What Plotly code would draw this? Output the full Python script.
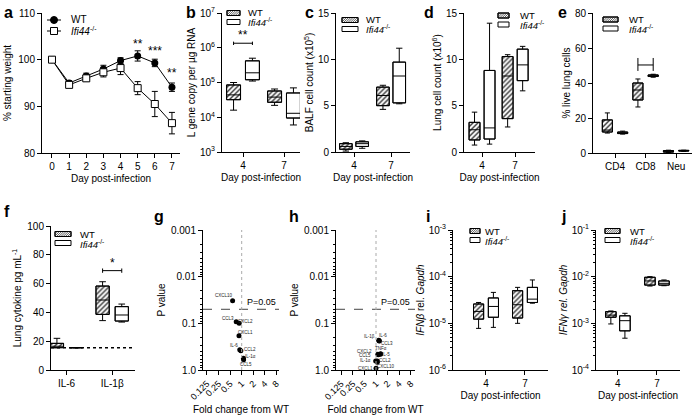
import math
import plotly.graph_objects as go

W, H = 696, 419
FONT = "Arial, Liberation Sans, sans-serif"
KO = "<i>Ifi44</i><sup>-/-</sup>"

# ---------------- data ----------------
# a: body weight
a_days = [0, 1, 2, 3, 4, 5, 6, 7]
a_wt = [100, 95.0, 96.5, 98.0, 99.8, 100.8, 99.3, 94.1]
a_wt_err = [0, 0.5, 0.6, 0.8, 0.6, 1.1, 0.8, 0.9]
a_ko = [100, 94.6, 96.0, 97.3, 98.2, 93.9, 90.5, 86.4]
a_ko_err = [0, 0.6, 0.6, 1.0, 1.4, 1.4, 2.7, 2.3]
a_star_days = [5, 6, 7]
a_star_y = [103.4, 101.8, 97.2]
a_star_txt = ["**", "***", "**"]

days_cat = ["4", "7"]
# box stats: [low whisker, q1, median, q3, high whisker] per category
b_wt = [[1.6e4, 3.2e4, 4.4e4, 8.5e4, 1.0e5], [2.2e4, 2.7e4, 3.8e4, 5.7e4, 6.5e4]]
b_ko = [[1.1e5, 1.2e5, 1.9e5, 4.2e5, 5.0e5], [6e3, 9.5e3, 1.3e4, 5e4, 7e4]]
c_wt = [[0.1, 0.3, 0.6, 0.9, 1.0], [4.6, 5.0, 6.1, 7.0, 7.2]]
c_ko = [[0.4, 0.6, 0.9, 1.1, 1.2], [5.2, 5.3, 8.2, 9.7, 11.2]]
d_wt = [[0.75, 1.3, 2.4, 3.2, 4.3], [2.7, 3.6, 8.2, 10.3, 10.5]]
d_ko = [[0.85, 1.4, 2.6, 8.8, 13.9], [6.6, 7.7, 9.4, 11.1, 11.4]]
e_cats = ["CD4", "CD8", "Neu"]
e_wt = [[11.4, 12.0, 13.1, 18.9, 22.9], [26.3, 30.3, 36.0, 40.0, 42.3], [0.3, 0.5, 0.9, 1.4, 1.6]]
e_ko = [[10.8, 11.1, 11.6, 12.0, 12.5], [43.3, 43.7, 44.2, 44.6, 45.0], [0.9, 1.1, 1.3, 1.5, 1.6]]
f_cats = ["IL-6", "IL-1β"]
f_wt = [[15.5, 15.5, 16.5, 18.5, 22.0], [34.3, 38.6, 48.6, 58.3, 61.3]]
f_ko = [[15.5, 15.5, 15.5, 15.5, 15.5], [33.3, 34.0, 38.2, 44.0, 45.8]]
f_lod = 15.5
i_wt = [[7.8e-6, 1.23e-5, 1.8e-5, 2.6e-5, 2.8e-5], [1.0e-5, 1.3e-5, 2.5e-5, 5.0e-5, 5.9e-5]]
i_ko = [[8.2e-6, 1.35e-5, 2.3e-5, 3.5e-5, 4.6e-5], [2.7e-5, 2.8e-5, 3.3e-5, 5.9e-5, 8.5e-5]]
j_wt = [[9.7e-4, 1.35e-3, 1.5e-3, 1.78e-3, 1.84e-3], [6.3e-3, 6.6e-3, 8.1e-3, 9.7e-3, 1.0e-2]]
j_ko = [[4.8e-4, 6.9e-4, 1.14e-3, 1.45e-3, 1.64e-3], [6.4e-3, 6.6e-3, 7.2e-3, 8.1e-3, 8.5e-3]]

# g / h volcano-style
g_names = ["CXCL10", "CCL3", "CXCL2", "CXCL1", "IL-6", "CCL2", "IL-1α", "CCL5"]
g_fold = [0.58, 0.72, 0.86, 0.85, 0.89, 0.95, 1.11, 1.12]
g_p = [0.033, 0.092, 0.10, 0.184, 0.37, 0.385, 0.56, 0.60]
h_names = ["IL-1β", "IL-6", "CCL3", "TNFα", "CXCL2", "CCL5", "IL-5", "IL-1α", "CCL2", "CXCL10", "CXCL1"]
h_fold = [1.18, 1.2, 1.22, 1.32, 1.12, 1.14, 1.3, 0.98, 1.08, 1.08, 1.0]
h_p = [0.23, 0.235, 0.24, 0.45, 0.46, 0.47, 0.46, 0.64, 0.64, 0.68, 0.92]
p_thresh = 0.05
fold_ref = 1
fold_ticks = [0.125, 0.25, 0.5, 1, 2, 4, 8]
fold_ticktext = ["0.125", "0.25", "0.5", "1", "2", "4", "8"]
p_ticks = [0.001, 0.01, 0.1, 1]
p_ticktext = ["0.001", "0.01", "0.1", "1.0"]

# label offsets (px) of the small gene labels from their points
g_lab_off = [(-9, -5), (-8, -3), (6, -2), (7, -3), (-6, -4), (9, -1), (7, -2), (2, 5)]
h_lab_off = [(-9, -4), (4, -5), (8, 2), (0, -5), (-13, -3), (-13, 1), (6, 0), (-10, 0), (8, 0), (9, 4), (-11, 0)]

# ---------------- layout helpers ----------------
def dx(a, b):
    return [a / W, b / W]

def dy(top, bottom):
    return [1 - bottom / H, 1 - top / H]

def minor_log(lo, hi):
    return [k * 10 ** e for e in range(lo, hi) for k in range(2, 10)]

def pow_text(lo, hi):
    return [10 ** e for e in range(lo, hi + 1)], ["10<sup>%d</sup>" % e for e in range(lo, hi + 1)]

base_ax = dict(showline=True, linecolor="black", linewidth=1, ticks="outside", ticklen=4,
               tickwidth=1, tickcolor="black", showgrid=False, zeroline=False, automargin=False,
               tickfont=dict(size=10, color="black", family=FONT),
               title_font=dict(size=10, color="black", family=FONT))

fig = go.Figure()
HATCH = dict(shape="/", fgcolor="#333", bgcolor="white", size=3.5, solidity=0.4)

def add_boxes(xa, ya, cats, wt, ko, off, w):
    for stats, sign in ((wt, -1), (ko, 1)):
        pos = [i + sign * off for i in range(len(cats))]
        lo = [s[0] for s in stats]
        q1 = [s[1] for s in stats]
        me = [s[2] for s in stats]
        q3 = [s[3] for s in stats]
        hi = [s[4] for s in stats]
        pat = HATCH if sign < 0 else dict(shape="")
        fig.add_trace(go.Bar(x=pos, base=q1, y=[b - a for a, b in zip(q1, q3)], width=w,
                             marker=dict(color="white", line=dict(color="black", width=1), pattern=pat),
                             xaxis=xa, yaxis=ya, showlegend=False, hoverinfo="skip"))
        fig.add_trace(go.Box(x=pos, q1=q1, median=me, q3=q3, lowerfence=lo, upperfence=hi,
                             width=w, whiskerwidth=0.5, fillcolor="rgba(0,0,0,0)",
                             line=dict(color="black", width=1), boxpoints=False,
                             xaxis=xa, yaxis=ya, showlegend=False))

# ---- a ----
fig.add_trace(go.Scatter(x=a_days, y=a_wt, mode="lines+markers", name="WT",
                         line=dict(color="black", width=1),
                         marker=dict(symbol="circle", size=7, color="black"),
                         error_y=dict(type="data", array=a_wt_err, color="black", thickness=1, width=3),
                         xaxis="x", yaxis="y", showlegend=False))
fig.add_trace(go.Scatter(x=a_days, y=a_ko, mode="lines+markers", name="Ifi44-/-",
                         line=dict(color="black", width=1),
                         marker=dict(symbol="square", size=7, color="white", line=dict(color="black", width=1)),
                         error_y=dict(type="data", array=a_ko_err, color="black", thickness=1, width=3),
                         xaxis="x", yaxis="y", showlegend=False))

add_boxes("x2", "y2", days_cat, b_wt, b_ko, 0.23, 0.34)
add_boxes("x3", "y3", days_cat, c_wt, c_ko, 0.22, 0.34)
add_boxes("x4", "y4", days_cat, d_wt, d_ko, 0.227, 0.33)
add_boxes("x5", "y5", e_cats, e_wt, e_ko, 0.25, 0.33)
add_boxes("x6", "y6", f_cats, f_wt, f_ko, 0.21, 0.29)
add_boxes("x9", "y9", days_cat, i_wt, i_ko, 0.19, 0.26)
add_boxes("x10", "y10", days_cat, j_wt, j_ko, 0.18, 0.27)

for xa, ya, fold, p in (("x7", "y7", g_fold, g_p), ("x8", "y8", h_fold, h_p)):
    fig.add_trace(go.Scatter(x=fold, y=p, mode="markers", marker=dict(color="black", size=5),
                             xaxis=xa, yaxis=ya, showlegend=False))

# ---------------- axes ----------------
L = {}
def setax(n, xdom, ydom, xr, yr, xkw, ykw):
    xs = "xaxis" if n == 1 else "xaxis%d" % n
    ys = "yaxis" if n == 1 else "yaxis%d" % n
    xname = "y" if n == 1 else "y%d" % n
    yname = "x" if n == 1 else "x%d" % n
    L[xs] = dict(base_ax, domain=xdom, range=xr, anchor=xname, **xkw)
    L[ys] = dict(base_ax, domain=ydom, range=yr, anchor=yname, **ykw)

day_title = dict(text="Day post-infection", standoff=3)
row1 = dy(13, 153)
row2 = dy(230, 370)

setax(1, dx(42, 180), row1, [-0.583, 7.47], [80, 110],
      dict(tickvals=a_days, title=day_title),
      dict(tickvals=[80, 90, 100, 110], title=dict(text="% starting weight", standoff=4)))
bt, btt = pow_text(3, 7)
setax(2, dx(222, 300), dy(13, 152), [-0.512, 1.39], [3, 7],
      dict(tickvals=[0, 1], ticktext=days_cat, title=day_title),
      dict(type="log", tickvals=bt, ticktext=btt, title=dict(text="L gene copy per µg RNA", standoff=2)))
setax(3, dx(336, 410), dy(13, 152), [-0.486, 1.51], [0, 15],
      dict(tickvals=[0, 1], ticktext=days_cat, title=day_title),
      dict(tickvals=[0, 5, 10, 15], title=dict(text="BALF cell count (x10<sup>5</sup>)", standoff=2)))
setax(4, dx(464, 535), dy(13, 152), [-0.545, 1.6], [0, 15],
      dict(tickvals=[0, 1], ticktext=days_cat, title=day_title),
      dict(tickvals=[0, 5, 10, 15], title=dict(text="Lung cell count (x10<sup>6</sup>)", standoff=2)))
setax(5, dx(593, 692), row1, [-0.72, 2.52], [0, 80],
      dict(tickvals=[0, 1, 2], ticktext=e_cats),
      dict(tickvals=[0, 20, 40, 60, 80], title=dict(text="% live lung cells", standoff=2)))
setax(6, dx(51, 135), dy(226, 370), [-0.34, 1.5], [0, 100],
      dict(tickvals=[0, 1], ticktext=f_cats),
      dict(tickvals=[0, 20, 40, 60, 80, 100], title=dict(text="Lung cytokine pg mL<sup>-1</sup>", standoff=3)))
fold_ax = dict(type="log", tickvals=fold_ticks, ticktext=fold_ticktext, tickangle=-45,
               tickfont=dict(size=9, color="black", family=FONT),
               title=dict(text="Fold change from WT", standoff=5))
p_ax = dict(type="log", tickvals=p_ticks, ticktext=p_ticktext,
            minor=dict(tickvals=minor_log(-3, 0), ticks="outside", ticklen=2, tickcolor="black", showgrid=False),
            title=dict(text="P value", standoff=3))
setax(7, dx(203, 279), row2, [-1.007, 0.971], [0, -3], fold_ax, p_ax)
setax(8, dx(336, 415), row2, [-1.039, 1.013], [0, -3], fold_ax, p_ax)
it, itt = pow_text(-6, -3)
setax(9, dx(453, 548), row2, [-0.846, 1.59], [-6, -3],
      dict(tickvals=[0, 1], ticktext=days_cat, title=day_title),
      dict(type="log", tickvals=it, ticktext=itt,
           minor=dict(tickvals=minor_log(-6, -3), ticks="outside", ticklen=2, tickcolor="black", showgrid=False),
           title=dict(text="<i>IFNβ</i> rel. <i>Gapdh</i>", standoff=2)))
jt, jtt = pow_text(-4, -1)
setax(10, dx(596, 680), row2, [-0.56, 1.59], [-4, -1],
      dict(tickvals=[0, 1], ticktext=days_cat, title=day_title),
      dict(type="log", tickvals=jt, ticktext=jtt,
           minor=dict(tickvals=minor_log(-4, -1), ticks="outside", ticklen=2, tickcolor="black", showgrid=False),
           title=dict(text="<i>IFNγ rel. Gapdh</i>", standoff=2)))

# ---------------- annotations & shapes ----------------
ann = []
shapes = []

def ptxt(text, x, y, size=10, **kw):
    ann.append(dict(text=text, xref="paper", yref="paper", x=x / W, y=1 - y / H, showarrow=False,
                    xanchor=kw.pop("xanchor", "left"), yanchor=kw.pop("yanchor", "middle"),
                    font=dict(size=size, color="black", family=FONT), **kw))

def prect(x0, y0, x1, y1, fill="white", lw=1):
    shapes.append(dict(type="rect", xref="paper", yref="paper", x0=x0 / W, x1=x1 / W,
                       y0=1 - y0 / H, y1=1 - y1 / H, fillcolor=fill, line=dict(color="black", width=lw)))

def phatch(x0, y0, w, h, step=2.2):
    segs = []
    t = -h
    while t < w:
        sx, sy, ex, ey = x0 + t, y0 + h, x0 + t + h, y0
        if sx < x0:
            sy -= (x0 - sx)
            sx = x0
        if ex > x0 + w:
            ey += ex - (x0 + w)
            ex = x0 + w
        if ex > sx:
            segs.append("M%.5f,%.5f L%.5f,%.5f" % (sx / W, 1 - sy / H, ex / W, 1 - ey / H))
        t += step
    shapes.append(dict(type="path", xref="paper", yref="paper", path=" ".join(segs),
                       line=dict(color="#333", width=0.8)))

def box_legend(sx, sw, y1, y2, tx, sh=5, fs=9.5):
    prect(sx, y1 - sh / 2, sx + sw, y1 + sh / 2)
    phatch(sx, y1 - sh / 2, sw, sh)
    prect(sx, y1 - sh / 2, sx + sw, y1 + sh / 2, fill="rgba(0,0,0,0)")
    prect(sx, y2 - sh / 2, sx + sw, y2 + sh / 2)
    ptxt("WT", tx, y1, size=fs)
    ptxt(KO, tx, y2 + 0.5, size=fs)

# panel a legend (line + marker)
for yy in (20, 31):
    shapes.append(dict(type="line", xref="paper", yref="paper", x0=47 / W, x1=61 / W, y0=1 - yy / H, y1=1 - yy / H,
                       line=dict(color="black", width=1)))
shapes.append(dict(type="circle", xref="paper", yref="paper", x0=50.5 / W, x1=57.5 / W, y0=1 - 23.5 / H,
                   y1=1 - 16.5 / H, fillcolor="black", line=dict(color="black", width=1)))
prect(50.5, 27.5, 57.5, 34.5)
ptxt("WT", 69, 20)
ptxt(KO, 69, 31)

box_legend(227, 13, 13, 22, 246)
box_legend(342, 16, 20, 29, 364)
box_legend(498, 11, 15.5, 24.5, 518)
box_legend(603, 15, 19.5, 28.5, 627)
box_legend(55, 16, 234, 243, 78)
box_legend(470, 10, 231, 240, 483)
box_legend(605, 15, 231, 240, 628)

for lt, x, y in (("a", 2, 2), ("b", 184, 2), ("c", 303, 2), ("d", 422, 2), ("e", 556, 2),
                 ("f", 2, 201), ("g", 152, 206), ("h", 287, 206), ("i", 424, 206), ("j", 559, 206)):
    ptxt("<b>%s</b>" % lt, x, y, size=16, yanchor="top")

for d, y, t in zip(a_star_days, a_star_y, a_star_txt):
    ann.append(dict(text=t, x=d, y=y, xref="x", yref="y", showarrow=False,
                    font=dict(size=12, color="black", family=FONT)))

def bracket(xa, ya, x0, x1, y, lo, hi, star=None, sy=None):
    shapes.append(dict(type="line", xref=xa, yref=ya, x0=x0, x1=x1, y0=y, y1=y, line=dict(color="black", width=1)))
    for xx in (x0, x1):
        shapes.append(dict(type="line", xref=xa, yref=ya, x0=xx, x1=xx, y0=lo, y1=hi, line=dict(color="black", width=1)))
    if star:
        ann.append(dict(text=star, x=(x0 + x1) / 2, y=sy, xref=xa, yref=ya, showarrow=False,
                        font=dict(size=12, color="black", family=FONT)))

bracket("x2", "y2", -0.23, 0.23, 1.35e6, 1.2e6, 1.5e6, "**", math.log10(2.3e6))
bracket("x5", "y5", 1 - 0.25, 1 + 0.25, 50.3, 46.9, 54.3)
bracket("x6", "y6", 1 - 0.21, 1 + 0.21, 69, 67.5, 70.5, "*", 74)

shapes.append(dict(type="line", xref="x6 domain", yref="y6", x0=0, x1=1, y0=f_lod, y1=f_lod,
                   line=dict(color="black", width=1.5, dash="dot")))

for xa, ya, names, fold, p, offs in (("x7", "y7", g_names, g_fold, g_p, g_lab_off),
                                      ("x8", "y8", h_names, h_fold, h_p, h_lab_off)):
    shapes.append(dict(type="line", xref=xa + " domain", yref=ya, x0=0, x1=1, y0=p_thresh, y1=p_thresh,
                       line=dict(color="#444", width=1, dash="dash")))
    shapes.append(dict(type="line", xref=xa, yref=ya + " domain", x0=fold_ref, x1=fold_ref, y0=0, y1=1,
                       line=dict(color="#aaa", width=1, dash="dot")))
    ann.append(dict(text="P=0.05", x=math.log10(fold_ref), y=math.log10(p_thresh), xref=xa, yref=ya,
                    xanchor="left", yanchor="bottom", xshift=3, showarrow=False,
                    font=dict(size=9, color="black", family=FONT)))
    for nm, fx, pv, (ox, oy) in zip(names, fold, p, offs):
        ann.append(dict(text=nm, x=math.log10(fx), y=math.log10(pv), xref=xa, yref=ya, showarrow=False,
                        xanchor="center", yanchor="middle", xshift=ox, yshift=-oy,
                        font=dict(size=4.5, color="#222", family=FONT)))

fig.update_layout(template="none", width=W, height=H, margin=dict(l=0, r=0, t=0, b=0, pad=0),
                  paper_bgcolor="white", plot_bgcolor="white", barmode="overlay", boxmode="overlay",
                  showlegend=False, font=dict(family=FONT, size=10, color="black"),
                  annotations=ann, shapes=shapes, **L)
fig.write_html("out.html", config={"displayModeBar": False},
               post_script="document.body.style.margin='0px';document.body.style.padding='0px';")
